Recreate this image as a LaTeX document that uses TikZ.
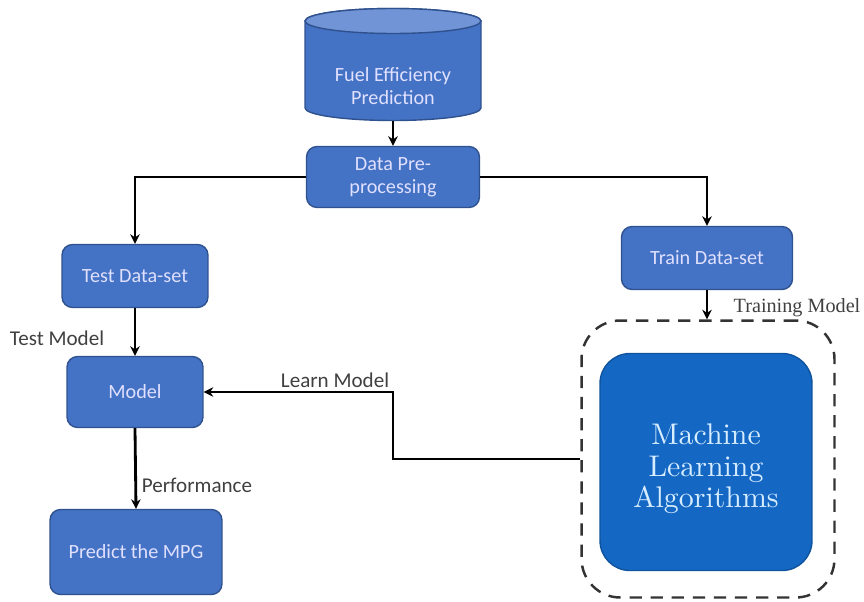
\documentclass[tikz,border=0pt]{standalone}
\usepackage{fontspec}
\usepackage{xcolor}
\usepackage{tikz}
\usetikzlibrary{arrows.meta}
\newfontfamily\calibri{Carlito}
\newfontfamily\timesrm{Liberation Serif}
\definecolor{boxblue}{RGB}{68,114,196}
\definecolor{boxedge}{RGB}{47,82,143}
\definecolor{dbtop}{RGB}{112,148,214}
\definecolor{mlblue}{RGB}{20,104,196}
\definecolor{mltext}{RGB}{214,236,255}
\definecolor{labelgray}{RGB}{64,64,64}

\begin{document}
\begin{tikzpicture}[x=0.02cm,y=-0.02cm,
	box/.style={draw=boxedge,line width=0.8pt,fill=boxblue,rounded corners=6pt,
		text=white!88!blue,font=\calibri\fontsize{11.5}{13}\selectfont,align=center},
	lbl/.style={text=labelgray,font=\calibri\fontsize{12}{14}\selectfont},
	arr/.style={line width=1.6pt,-{Stealth[length=1.9mm,width=1.9mm]}}]
	\useasboundingbox (0,0) rectangle (864,601);

	% database cylinder
	\coordinate (T) at (393,21);
	\fill[boxblue,draw=boxedge,line width=0.8pt] (305,21) -- (305,108)
		arc[start angle=180,end angle=0,x radius=88,y radius=12.5]
		-- (481,21) arc[start angle=0,end angle=-180,x radius=88,y radius=12.5] -- cycle;
	\draw[fill=dbtop,draw=boxedge,line width=0.8pt] (T) ellipse [x radius=88,y radius=12.5];
	\node (fuel) at (393,86) [box,draw=none,fill=none] {Fuel Efficiency\\Prediction};
	\coordinate (db) at (393,121);

	% boxes
	\node (pre) at (393,177) [box,minimum width=3.46cm,minimum height=1.22cm] {Data Pre-\\processing};
	\node (test) at (135,276) [box,minimum width=2.92cm,minimum height=1.26cm] {Test Data-set};
	\node (train) at (707,258) [box,minimum width=3.42cm,minimum height=1.26cm] {Train Data-set};
	\node (model) at (135,392) [box,minimum width=2.72cm,minimum height=1.42cm] {Model};
	\node (mpg) at (136,552) [box,minimum width=3.44cm,minimum height=1.7cm] {Predict the MPG};

	% learning block
	\node (frame) at (708,459) [draw=labelgray!80!black,line width=1.4pt,dash pattern=on 7pt off 5pt,
		rounded corners=22pt,minimum width=5.06cm,minimum height=5.54cm] {};
	\node (ml) at (706,462) [draw=mlblue!80!black,line width=0.8pt,fill=mlblue,rounded corners=17pt,
		minimum width=4.24cm,minimum height=4.34cm] {};
	\node (mltxt) at (706,470) [text=mltext,font=\fontsize{10}{12}\selectfont]
		{\scalebox{1.7}{\def\arraystretch{0.88}\begin{tabular}{@{}c@{}}Machine\\Learning\\Algorithms\end{tabular}}};

	% connectors
	\coordinate (knee) at (393,0);
	\draw[arr] (db) -- (pre.north);
	\draw[arr] (pre.west) -| (test.north);
	\draw[arr] (pre.east) -| (train.north);
	\draw[arr] (test.south) -- (model.north);
	\draw[arr] (model.south) -- (mpg.north);
	\draw[arr] (train.south) -- (train.south |- frame.north);
	\draw[arr] (frame.west) -- (frame.west -| knee) |- (model.east);

	% labels
	\node at (57,338) [lbl] {Test Model};
	\node at (197,485) [lbl] {Performance};
	\node at (335,380) [lbl] {Learn Model};
	\node at (797,308) [text=labelgray,font=\timesrm\fontsize{11.5}{13}\selectfont] {Training Model};
\end{tikzpicture}
\end{document}
